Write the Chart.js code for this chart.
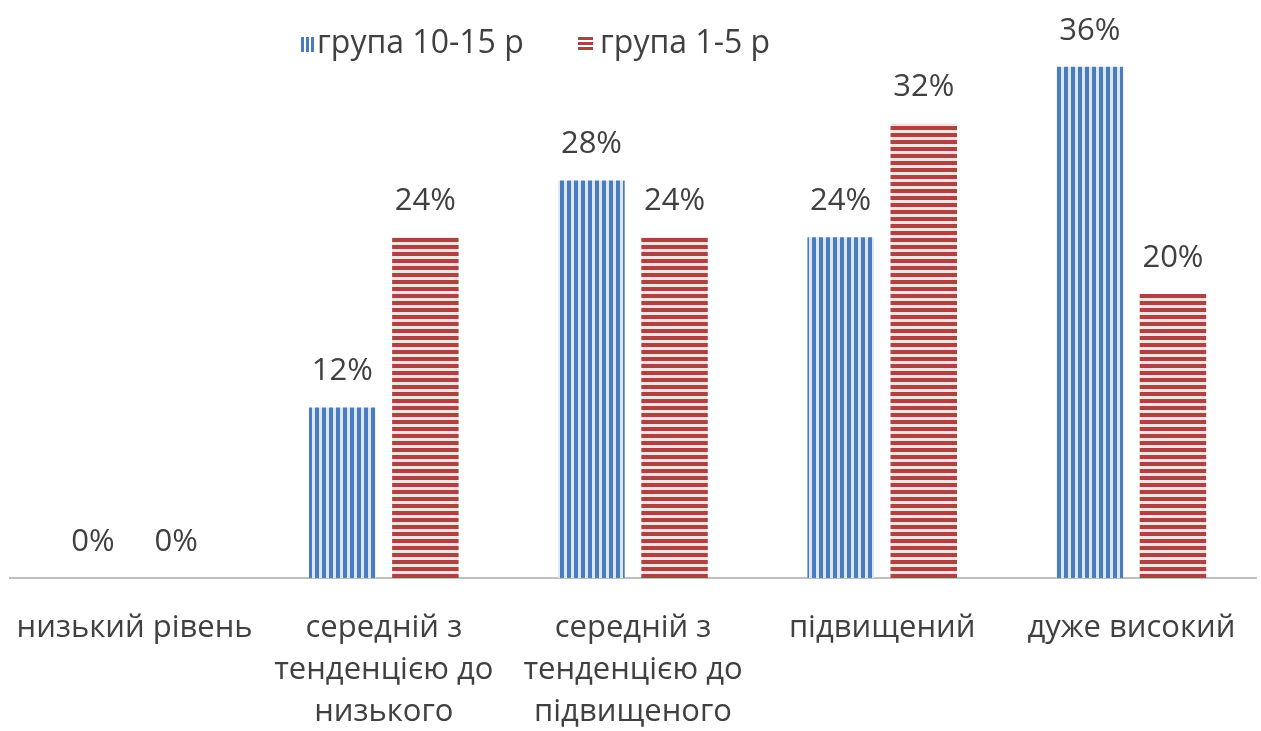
<!DOCTYPE html>
<html>
<head>
<meta charset="utf-8">
<script src="https://cdn.jsdelivr.net/npm/chart.js@4"></script>
<style>
  html, body { margin: 0; padding: 0; background: #fff; }
  #wrap { width: 1261px; height: 731px; position: relative; }
</style>
</head>
<body>
<div id="wrap"><canvas id="chart"></canvas></div>
<script>
const categories = [
  'низький рівень',
  ['середній з', 'тенденцією до', 'низького'],
  ['середній з', 'тенденцією до', 'підвищеного'],
  'підвищений',
  'дуже високий'
];
const seriesNames = ['група 10-15 р', 'група 1-5 р'];
const olderGroup = [0, 12, 28, 24, 36];   // група 10-15 р
const youngerGroup = [0, 24, 24, 32, 20]; // група 1-5 р

const FONT = "'Open Sans', 'Liberation Sans', sans-serif";
const TEXT = '#404040';
const BLUE = '#4a7cc0';
const RED = '#ad4242';

// striped fills like the Excel pattern fills
function stripes(vertical, ink, paper, inkSize, period) {
  const c = document.createElement('canvas');
  c.width = period; c.height = period;
  const g = c.getContext('2d');
  g.fillStyle = paper;
  g.fillRect(0, 0, period, period);
  g.fillStyle = ink;
  if (vertical) g.fillRect(0, 0, inkSize, period);
  else g.fillRect(0, 0, period, inkSize);
  return g.createPattern(c, 'repeat');
}
const bluePattern = stripes(true, BLUE, '#dde6f4', 4, 7);
const redPattern = stripes(false, RED, '#f6e0e0', 4, 7);

// value labels above each bar
const valueLabels = {
  id: 'valueLabels',
  afterDatasetsDraw(chart) {
    const ctx = chart.ctx;
    ctx.save();
    ctx.font = '31px ' + FONT;
    ctx.fillStyle = TEXT;
    ctx.textAlign = 'center';
    ctx.textBaseline = 'middle';
    chart.data.datasets.forEach((ds, i) => {
      chart.getDatasetMeta(i).data.forEach((bar, j) => {
        ctx.fillText(ds.data[j] + '%', bar.x, bar.y - 36);
      });
    });
    ctx.restore();
  }
};

// legend drawn over the plot, centred near the top
const topLegend = {
  id: 'topLegend',
  afterDraw(chart) {
    const ctx = chart.ctx;
    ctx.save();
    ctx.font = '32px ' + FONT;
    ctx.textBaseline = 'middle';
    const y = 44;
    // blue: three upright bars
    ctx.fillStyle = BLUE;
    for (let k = 0; k < 3; k++) ctx.fillRect(301 + k * 5, y - 7, 3, 15);
    ctx.fillStyle = TEXT;
    ctx.fillText(chart.data.datasets[0].label, 317, y);
    // red: three flat bars
    ctx.fillStyle = RED;
    for (let k = 0; k < 3; k++) ctx.fillRect(578, y - 7 + k * 5, 15, 3);
    ctx.fillStyle = TEXT;
    ctx.fillText(chart.data.datasets[1].label, 600, y);
    ctx.restore();
  }
};

new Chart(document.getElementById('chart'), {
  type: 'bar',
  data: {
    labels: categories,
    datasets: [
      { label: seriesNames[0], data: olderGroup, backgroundColor: bluePattern },
      { label: seriesNames[1], data: youngerGroup, backgroundColor: redPattern }
    ]
  },
  options: {
    responsive: true,
    maintainAspectRatio: false,
    animation: false,
    events: [],
    layout: { padding: { left: 10, right: 5, top: 10, bottom: 0 } },
    categoryPercentage: 0.667,
    barPercentage: 0.8,
    plugins: { legend: { display: false }, tooltip: { enabled: false } },
    scales: {
      x: {
        grid: { display: false, drawTicks: false },
        border: { color: '#bfbfbf', width: 2 },
        ticks: {
          color: TEXT,
          font: { family: FONT, size: 31, lineHeight: 1.355 },
          padding: 29,
          maxRotation: 0,
          autoSkip: false
        },
        afterFit(scale) {
          scale.height = 153;
          // labels already fit; keep the axis full width
          scale.paddingLeft = 0;
          scale.paddingRight = 0;
        }
      },
      y: { display: false, min: 0, max: 40 }
    }
  },
  plugins: [valueLabels, topLegend]
});
</script>
</body>
</html>
